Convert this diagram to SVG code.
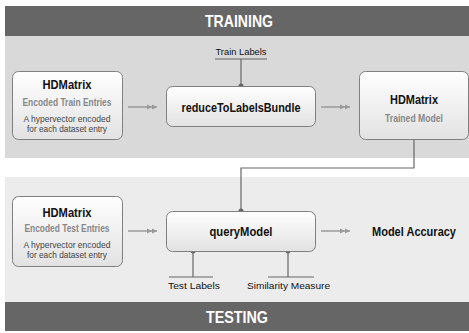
<svg xmlns="http://www.w3.org/2000/svg" width="469" height="333" viewBox="0 0 469 333">
<defs>
<linearGradient id="g" x1="0" y1="0" x2="0" y2="1"><stop offset="0" stop-color="#ffffff"/><stop offset="1" stop-color="#e2e2e2"/></linearGradient>
<marker id="ah" viewBox="0 0 10 6" refX="10" refY="3" markerWidth="10" markerHeight="6" markerUnits="userSpaceOnUse" orient="auto"><path d="M0,0.5 L5,3 L0,5.5 Z M5,0.5 L10,3 L5,5.5 Z" fill="#999"/></marker>
<marker id="dot" viewBox="0 0 6 6" refX="3" refY="3" markerWidth="6" markerHeight="6" markerUnits="userSpaceOnUse"><circle cx="3" cy="3" r="2.5" fill="#666"/></marker>
</defs>
<style>
.box{fill:url(#g);stroke:#808080;stroke-width:1}
.t{font-family:"Liberation Sans",Arial,sans-serif;font-weight:bold;text-anchor:middle;fill:#111;font-size:13px}
.s{font-family:"Liberation Sans",Arial,sans-serif;font-weight:bold;text-anchor:middle;fill:#888;font-size:10px}
.d{font-family:"Liberation Sans",Arial,sans-serif;text-anchor:middle;fill:#444;font-size:9px}
.l{font-family:"Liberation Sans",Arial,sans-serif;text-anchor:middle;fill:#111;font-size:9.5px}
.bar{font-family:"Liberation Sans",Arial,sans-serif;font-weight:bold;text-anchor:middle;fill:#fff;font-size:17px}
.c{fill:none;stroke:#888;stroke-width:1.2}
.k{fill:none;stroke:#666;stroke-width:1.2}
</style>
<rect x="0" y="0" width="469" height="333" fill="#fff"/>
<rect x="5" y="6" width="464" height="30" fill="#666"/>
<text class="bar" x="239" y="27" textLength="68" lengthAdjust="spacingAndGlyphs">TRAINING</text>
<rect x="5" y="36" width="464" height="122" fill="#d9d9d9"/>
<rect x="5" y="177" width="464" height="125" fill="#ececec"/>
<rect x="5" y="302" width="464" height="29" fill="#666"/>
<text class="bar" x="237" y="323" textLength="62" lengthAdjust="spacingAndGlyphs">TESTING</text>

<g id="connectors">
<line class="c" x1="128" y1="107" x2="157" y2="107" marker-end="url(#ah)"/>
<line class="c" x1="321" y1="107" x2="350" y2="107" marker-end="url(#ah)"/>
<line class="c" x1="128" y1="231" x2="157" y2="231" marker-end="url(#ah)"/>
<line class="c" x1="321" y1="231" x2="350" y2="231" marker-end="url(#ah)"/>
<line class="k" x1="215" y1="59" x2="267" y2="59"/>
<line class="k" x1="241" y1="59" x2="241" y2="86" marker-end="url(#dot)"/>
<polyline class="k" points="414,139 414,168 241,168 241,211" marker-end="url(#dot)"/>
<line class="k" x1="193" y1="277" x2="193" y2="251" marker-end="url(#dot)"/>
<line class="k" x1="169" y1="277" x2="213" y2="277"/>
<line class="k" x1="288" y1="277" x2="288" y2="251" marker-end="url(#dot)"/>
<line class="k" x1="268" y1="277" x2="314" y2="277"/>
</g>

<g id="train-entries">
<rect class="box" x="12.5" y="71.5" width="110" height="68" rx="6"/>
<text class="t" x="67" y="89" textLength="49" lengthAdjust="spacingAndGlyphs">HDMatrix</text>
<text class="s" x="67" y="106" textLength="89" lengthAdjust="spacingAndGlyphs">Encoded Train Entries</text>
<text class="d" x="67" y="122" textLength="87" lengthAdjust="spacingAndGlyphs">A hypervector encoded</text>
<text class="d" x="67" y="132" textLength="80" lengthAdjust="spacingAndGlyphs">for each dataset entry</text>
</g>
<g id="reduce">
<rect class="box" x="166.5" y="86.5" width="149" height="40" rx="6"/>
<text class="t" x="241" y="111.5" textLength="119" lengthAdjust="spacingAndGlyphs">reduceToLabelsBundle</text>
</g>
<g id="train-labels"><text class="l" x="241" y="55" textLength="51" lengthAdjust="spacingAndGlyphs">Train Labels</text></g>
<g id="trained-model">
<rect class="box" x="359.5" y="71.5" width="109" height="68" rx="6"/>
<text class="t" x="414" y="104" textLength="48" lengthAdjust="spacingAndGlyphs">HDMatrix</text>
<text class="s" x="414" y="122" textLength="58" lengthAdjust="spacingAndGlyphs">Trained Model</text>
</g>

<g id="test-entries">
<rect class="box" x="12.5" y="196.5" width="110" height="70" rx="6"/>
<text class="t" x="67" y="217" textLength="49" lengthAdjust="spacingAndGlyphs">HDMatrix</text>
<text class="s" x="67" y="232" textLength="85" lengthAdjust="spacingAndGlyphs">Encoded Test Entries</text>
<text class="d" x="67" y="248" textLength="87" lengthAdjust="spacingAndGlyphs">A hypervector encoded</text>
<text class="d" x="67" y="258" textLength="80" lengthAdjust="spacingAndGlyphs">for each dataset entry</text>
</g>
<g id="query">
<rect class="box" x="166.5" y="211.5" width="149" height="40" rx="6"/>
<text class="t" x="241" y="235.5" textLength="63" lengthAdjust="spacingAndGlyphs">queryModel</text>
</g>
<g id="accuracy"><text class="t" x="414" y="235.5" font-size="12.5" textLength="84" lengthAdjust="spacingAndGlyphs">Model Accuracy</text></g>
<g id="test-labels"><text class="l" x="194" y="289" textLength="52" lengthAdjust="spacingAndGlyphs">Test Labels</text></g>
<g id="similarity"><text class="l" x="288.5" y="289" textLength="83" lengthAdjust="spacingAndGlyphs">Similarity Measure</text></g>
</svg>
